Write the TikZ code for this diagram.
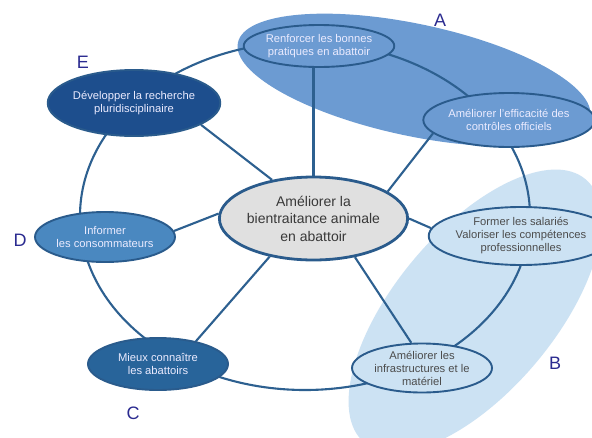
\documentclass[tikz,border=0pt]{standalone}
\usepackage{fontspec}
\setmainfont{Liberation Sans}
\usetikzlibrary{shapes.geometric}
\definecolor{linec}{HTML}{2D6090}
\definecolor{bordc}{HTML}{2A5B8C}
\definecolor{amid}{HTML}{6C9BD2}
\definecolor{blight}{HTML}{CCE2F3}
\definecolor{devc}{HTML}{1D4E8D}
\definecolor{infc}{HTML}{4A88C0}
\definecolor{mieuxc}{HTML}{28649A}
\definecolor{letc}{HTML}{2B2B90}
\definecolor{centc}{HTML}{E0E0E0}
\pgfdeclarelayer{back}
\pgfdeclarelayer{mid}
\pgfsetlayers{back,mid,main}
\tikzset{
  spoke/.style={draw=linec, line width=2.1pt},
  bub/.style={ellipse, draw=bordc, line width=1.9pt, inner sep=0pt, align=center,
    font=\fontsize{11.2}{13}\selectfont},
  darkbub/.style={bub, text=white!92!blue},
  lightbub/.style={bub, fill=blight, text=black!70},
  letter/.style={text=letc, font=\fontsize{18}{20}\selectfont},
  zone/.style={ellipse, inner sep=0pt, draw=none}
}
\begin{document}
\begin{tikzpicture}[x=1pt,y=-1pt]
\useasboundingbox (0,0) rectangle (592,437);

% nodes
\node[bub, fill=centc, draw=bordc, line width=2.8pt, minimum width=163pt, minimum height=83pt,
  text=black!78, font=\fontsize{14}{17.5}\selectfont] (c) at (313.5,218.5)
  {Améliorer la\\bientraitance animale\\en abattoir};
\node[darkbub, fill=amid, minimum width=138pt, minimum height=42pt] (renf) at (319,46)
  {Renforcer les bonnes\\pratiques en abattoir};
\node[darkbub, fill=amid, minimum width=138pt, minimum height=54pt] (eff) at (509,120)
  {Améliorer l'efficacité des\\contrôles officiels};
\node[lightbub, minimum width=139pt, minimum height=58pt] (former) at (521,236)
  {Former les salariés\\Valoriser les compétences\\professionnelles};
\node[lightbub, minimum width=140pt, minimum height=49pt] (infra) at (422,368)
  {Améliorer les\\infrastructures et le\\matériel};
\node[darkbub, fill=mieuxc, minimum width=140pt, minimum height=52pt] (mieux) at (158,364)
  {Mieux connaître\\les abattoirs};
\node[darkbub, fill=infc, minimum width=140pt, minimum height=50pt] (inf) at (105,237)
  {Informer\\les consommateurs};
\node[darkbub, fill=devc, minimum width=162pt, minimum height=66pt] (dev) at (134,103)
  {Développer la recherche\\pluridisciplinaire};

% letters
\node[letter] (la) at (440,20) {A};
\node[letter] (lb) at (555,363) {B};
\node[letter] (lc) at (133,413) {C};
\node[letter] (ld) at (20,240) {D};
\node[letter] (le) at (83,62) {E};

% ring and spokes
\begin{pgfonlayer}{mid}
\node[ellipse, draw=linec, line width=2.1pt, inner sep=0pt,
  minimum width=450pt, minimum height=348pt] (ring) at (305,216) {};
\draw[spoke] (c.north) -- (c.north |- renf.south);
\draw[spoke] (c.20) -- (eff.190);
\draw[spoke] (c.0) -- (former.175);
\draw[spoke] (c.-43) -- (infra.113);
\draw[spoke] (c.221) -- (mieux.31);
\draw[spoke] (c.177) -- (inf.5);
\draw[spoke] (c.137) -- (dev.-18);
\end{pgfonlayer}

% groups
\begin{pgfonlayer}{back}
\clip (0,0) rectangle (592,437);
\fill[white] (0,0) rectangle (592,437);
\node[zone, fill=amid, minimum width=360pt, minimum height=112pt, rotate=-12] (za) at (414,80) {};
\node[zone, fill=blight, minimum width=344pt, minimum height=160pt, rotate=50] (zb) at (475,311) {};
\end{pgfonlayer}
\end{tikzpicture}
\end{document}
